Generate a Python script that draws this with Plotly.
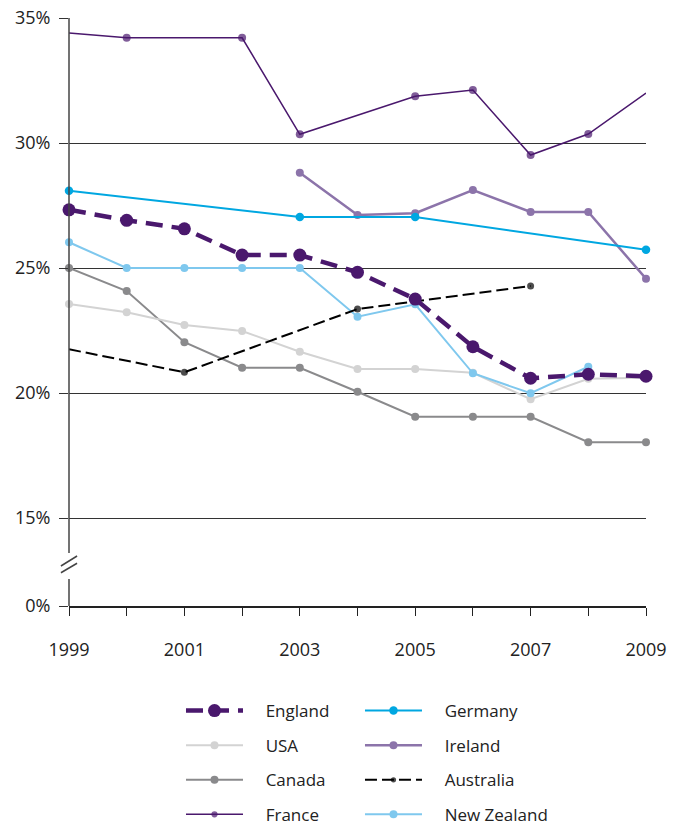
import plotly.graph_objects as go

# ---------------- data ----------------
years = [1999, 2000, 2001, 2002, 2003, 2004, 2005, 2006, 2007, 2008, 2009]

england = [27.33, 26.91, 26.57, 25.52, 25.52, 24.83, 23.76, 21.85, 20.59, 20.75, 20.67]
usa = [23.56, 23.23, 22.72, 22.48, 21.65, 20.96, 20.96, 20.81, 19.75, 20.57, 20.61]
canada = [25.0, 24.08, 22.03, 21.01, 21.01, 20.05, 19.05, 19.05, 19.05, 18.03, 18.03]

france_years = [1999, 2000, 2002, 2003, 2005, 2006, 2007, 2008, 2009]
france = [34.4, 34.21, 34.21, 30.35, 31.87, 32.12, 29.52, 30.36, 32.0]
france_marked = [False, True, True, True, True, True, True, True, False]

germany_years = [1999, 2003, 2005, 2009]
germany = [28.09, 27.04, 27.04, 25.73]

ireland_years = [2003, 2004, 2005, 2006, 2007, 2008, 2009]
ireland = [28.81, 27.12, 27.19, 28.12, 27.24, 27.24, 24.57]

australia_years = [1999, 2001, 2004, 2007]
australia = [21.75, 20.83, 23.36, 24.28]
australia_marked = [False, True, True, True]

nz_years = [1999, 2000, 2001, 2002, 2003, 2004, 2005, 2006, 2007, 2008]
new_zealand = [26.03, 25.0, 25.0, 25.0, 25.0, 23.05, 23.55, 20.79, 19.99, 21.05]

y_tick_vals = [11.48, 15, 20, 25, 30, 35]
y_tick_text = ["0%", "15%", "20%", "25%", "30%", "35%"]
x_tick_text = ["1999", "", "2001", "", "2003", "", "2005", "", "2007", "", "2009"]

# ---------------- styles ----------------
PURPLE = "#4A186D"
FONT = "Open Sans"
PAD = "\u00a0" * 4

fig = go.Figure()


def add(name, x, y, color, width, msize, dash="solid", legend="legend", rank=1, marked=None):
    sizes = msize if marked is None else [msize if m else 0 for m in marked]
    fig.add_trace(go.Scatter(
        x=x, y=y, name=PAD + name, mode="lines+markers",
        line=dict(color=color, width=width, dash=dash),
        marker=dict(color=color, size=sizes, line=dict(width=0)),
        legend=legend, legendrank=rank, legendgroup=name,
        cliponaxis=False,
    ))


add("Canada", years, canada, "#8A8A8C", 2, 8, legend="legend", rank=3)
add("USA", years, usa, "#D3D3D3", 2, 8, legend="legend", rank=2)
add("New Zealand", nz_years, new_zealand, "#7FC8EE", 2, 8, legend="legend2", rank=4)
add("Australia", australia_years, australia, "#000000", 2, 7, dash="12px,5px",
    legend="legend2", rank=3, marked=australia_marked)
add("Ireland", ireland_years, ireland, "#8C74AA", 2.5, 8, legend="legend2", rank=2)
add("Germany", germany_years, germany, "#00A7E1", 2, 8.5, legend="legend2", rank=1)
add("France", france_years, france, PURPLE, 1.5, 8, legend="legend", rank=4, marked=france_marked)
add("England", years, england, PURPLE, 4.5, 13, dash="17px,9px", legend="legend", rank=1)

# y axis line with a break
axis_col = "#444444"
shapes = [
    dict(type="line", xref="paper", yref="y", x0=0, x1=0, y0=11.48, y1=12.56,
         line=dict(color=axis_col, width=1.5)),
    dict(type="line", xref="paper", yref="y", x0=0, x1=0, y0=13.6, y1=35,
         line=dict(color=axis_col, width=1.5)),
    dict(type="line", xref="paper", yref="y", x0=-0.014, x1=0.014, y0=13.08, y1=13.48,
         line=dict(color=axis_col, width=1.5)),
    dict(type="line", xref="paper", yref="y", x0=-0.014, x1=0.014, y0=12.81, y1=13.19,
         line=dict(color=axis_col, width=1.5)),
]

legend_common = dict(
    orientation="v", yanchor="top", y=-0.148,
    xanchor="left",
    font=dict(family=FONT, size=17, color="#222222"),
    bgcolor="rgba(0,0,0,0)", traceorder="grouped", tracegroupgap=9.5,
    itemwidth=57,
)

fig.update_layout(
    width=669, height=817,
    margin=dict(l=61, r=31, t=10, b=219, autoexpand=False),
    paper_bgcolor="white", plot_bgcolor="white",
    font=dict(family=FONT, size=18, color="#222222"),
    shapes=shapes,
    legend=dict(x=0.1941, **legend_common),
    legend2=dict(x=0.5043, **legend_common),
    xaxis=dict(
        range=[1999, 2009], tickmode="array", tickvals=years, ticktext=x_tick_text,
        ticks="outside", ticklen=8, tickcolor="#222222", tickwidth=1,
        showline=True, linecolor="#222222", linewidth=1.5,
        showgrid=False, zeroline=False, ticklabelstandoff=19,
        ticklabeloverflow="allow",
    ),
    yaxis=dict(
        range=[11.48, 35.002], tickmode="array", tickvals=y_tick_vals, ticktext=y_tick_text,
        ticks="outside", ticklen=9, tickcolor="#333333", tickwidth=1,
        showline=False, showgrid=True, gridcolor="#333333", gridwidth=1,
        zeroline=False, ticklabelstandoff=5, ticklabeloverflow="allow",
    ),
)

fig.write_html("out.html")
